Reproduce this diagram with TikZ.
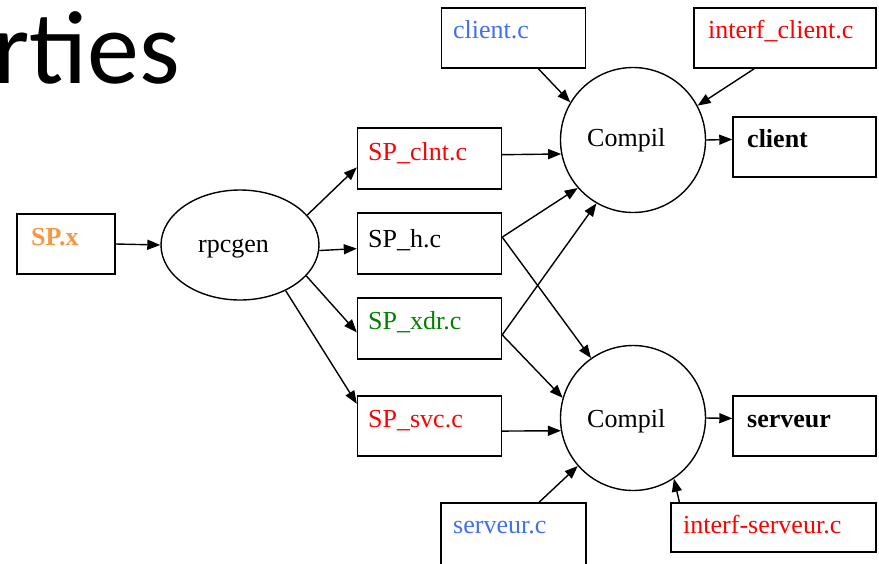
\documentclass[tikz,border=0pt]{standalone}
\usepackage{fontspec}
\setmainfont{Liberation Serif}
\newfontfamily\titlefont{Carlito}
\usetikzlibrary{arrows.meta,shapes.geometric}
\definecolor{fblue}{RGB}{66,110,240}
\definecolor{fred}{RGB}{255,0,0}
\definecolor{fgreen}{RGB}{0,128,0}
\definecolor{forange}{RGB}{247,150,70}
\begin{document}
\begin{tikzpicture}[x=1pt,y=-1pt,
  box/.style={draw, line width=1.4pt, inner sep=0pt},
  lbl/.style={anchor=base west, inner sep=0pt, font=\fontsize{26}{30}\selectfont},
  conn/.style={line width=1.4pt, -{Triangle[length=13pt,width=10pt]}},
]
\useasboundingbox (0,0) rectangle (879,563);
\node[anchor=base west, inner sep=0pt, font=\titlefont\fontsize{104}{114}\selectfont] (title) at (-7,83) {rties};

% boxes and shapes
\node[box, minimum width=98pt, minimum height=60pt] (spx) at (66,244) {};
\node[box, ellipse, minimum width=158pt, minimum height=110pt] (rpc) at (240,245) {};
\node[box, minimum width=144pt, minimum height=61pt] (spclnt) at (429.5,158.5) {};
\node[box, minimum width=144pt, minimum height=61pt] (sph) at (429.5,243.5) {};
\node[box, minimum width=144pt, minimum height=61pt] (spxdr) at (429.5,328.5) {};
\node[box, minimum width=144pt, minimum height=60pt] (spsvc) at (429.5,426) {};
\node[box, minimum width=144pt, minimum height=60pt] (clientc) at (513.5,38) {};
\node[box, minimum width=182pt, minimum height=60pt] (interfc) at (785,38) {};
\node[box, circle, minimum size=145pt] (c1) at (633,140) {};
\node[box, circle, minimum size=145pt] (c2) at (633,418) {};
\node[box, minimum width=143pt, minimum height=60pt] (client) at (804.5,147) {};
\node[box, minimum width=143pt, minimum height=60pt] (serveur) at (804.5,426) {};
\node[box, minimum width=145pt, minimum height=64pt] (serveurc) at (513.5,535) {};
\node[box, minimum width=205pt, minimum height=49pt] (interfs) at (773.5,527.5) {};

% texts
\node[lbl, text=forange, font=\fontsize{26}{30}\selectfont\bfseries] (spx-t) at (31,245) {SP.x};
\node[lbl] (rpc-t) at (198,252) {rpcgen};
\node[lbl, text=fred] (spclnt-t) at (368,160) {SP\_clnt.c};
\node[lbl] (sph-t) at (368,247) {SP\_h.c};
\node[lbl, text=fgreen] (spxdr-t) at (368,329) {SP\_xdr.c};
\node[lbl, text=fred] (spsvc-t) at (368,427) {SP\_svc.c};
\node[lbl, text=fblue] (clientc-t) at (453,38) {client.c};
\node[lbl, text=fred] (interfc-t) at (708,38) {interf\_client.c};
\node[lbl] (c1-t) at (587,146) {Compil};
\node[lbl] (c2-t) at (587,427) {Compil};
\node[lbl, font=\fontsize{26}{30}\selectfont\bfseries] (client-t) at (747,147) {client};
\node[lbl, font=\fontsize{26}{30}\selectfont\bfseries] (serveur-t) at (747,427) {serveur};
\node[lbl, text=fblue] (serveurc-t) at (453,533) {serveur.c};
\node[lbl, text=fred] (interfs-t) at (683,533) {interf-serveur.c};

% connectors
\draw[conn] (spx.east) -- (rpc.west);
\draw[conn] (rpc.24.5) -- (spclnt.187.5);
\draw[conn] (rpc.356) -- (sph.184.4);
\draw[conn] (rpc.335.5) -- (spxdr.183.6);
\draw[conn] (rpc.315.7) -- (spsvc.163.7);
\draw[conn] (spclnt.3.6) -- (c1.191);
\draw[conn] (sph.5.2) -- (c1.221.5);
\draw[conn] (spxdr.355.6) -- (c1.240);
\draw[conn] (sph.5.2) -- (c2.125.6);
\draw[conn] (spxdr.355.6) -- (c2.164.5);
\draw[conn] (spsvc.356) -- (c2.190.2);
\draw[conn] (clientc.309.8) -- (c1.149.7);
\draw[conn] (interfc.225) -- (c1.28.3);
\draw[conn] (c1.east) -- (client.174.4);
\draw[conn] (c2.east) -- (serveur.174.4);
\draw[conn] (serveurc.52.6) -- (c2.221.4);
\draw[conn] (interfs.165) -- (c2.304);
\end{tikzpicture}
\end{document}
